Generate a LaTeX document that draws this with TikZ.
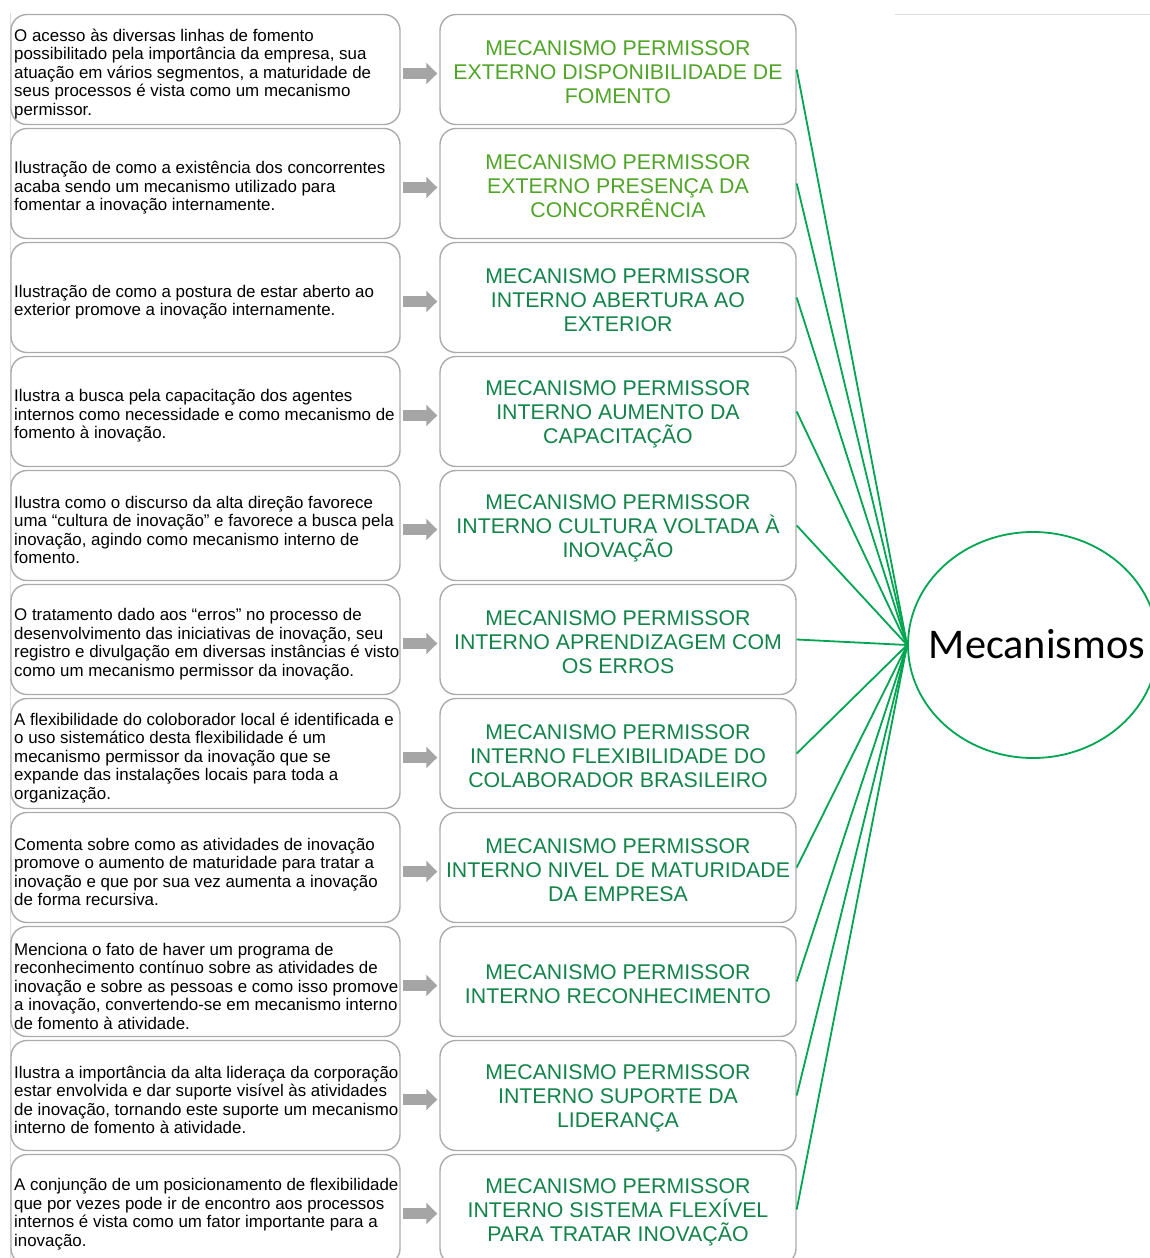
\documentclass[tikz,border=0pt]{standalone}
\usepackage{fontspec}
\setmainfont{Liberation Sans}
\newfontfamily\calfont{Carlito}
\usetikzlibrary{arrows.meta,shapes.geometric}
\definecolor{boxgray}{HTML}{ABABAB}
\definecolor{arrowgray}{HTML}{A5A5A5}
\definecolor{extgreen}{RGB}{80,165,40}
\definecolor{intgreen}{RGB}{18,132,74}
\definecolor{linkgreen}{RGB}{0,166,81}
\definecolor{rulegray}{HTML}{DCDCDC}
\begin{document}
\begin{tikzpicture}[x=1pt,y=-1pt,
  descbox/.style={draw=boxgray, line width=1.4pt, rounded corners=16pt,
    minimum width=389pt, minimum height=110pt, inner sep=0pt},
  desctext/.style={anchor=west, align=left, inner sep=0pt,
    font=\fontsize{16.9}{18.5}\selectfont},
  mechbox/.style={draw=boxgray, line width=1.4pt, rounded corners=16pt,
    minimum width=356pt, minimum height=110pt, inner sep=0pt},
  mechtext/.style={align=center, inner sep=0pt,
    font=\fontsize{21.3}{24}\selectfont},
  ext/.style={mechtext, text=extgreen},
  int/.style={mechtext, text=intgreen},
  flow/.style={arrowgray, line width=11pt,
    -{Triangle[width=21pt,length=11pt]}, shorten <=2pt, shorten >=2pt},
  link/.style={linkgreen, line width=1.8pt},
]
\useasboundingbox (0,0) rectangle (1150,1258);
\clip (0,0) rectangle (1150,1258);
\fill[white] (0,0) rectangle (1150,1258);

% faint page rules
\coordinate (ruleA) at (10,13);
\coordinate (ruleB) at (10,1258);
\coordinate (ruleC) at (895,14);
\coordinate (ruleD) at (1150,14);
\draw[rulegray, line width=0.8pt] (ruleA) -- (ruleB);
\draw[rulegray, line width=0.8pt] (ruleC) -- (ruleD);

% central concept
\node[draw=linkgreen, line width=1.8pt, ellipse, minimum width=250pt,
  minimum height=226pt, inner sep=0pt] (M) at (1033,645) {};
\node[font=\calfont\fontsize{42.3}{48}\selectfont, inner sep=0pt] (Mt) at (1037,644) {Mecanismos};

% row 1
\node[descbox] (L1) at (205.5,69.5) {};
\node[desctext] (T1) at (14,74) {O acesso às diversas linhas de fomento\\possibilitado pela importância da empresa, sua\\atuação em vários segmentos, a maturidade de\\seus processos é vista como um mecanismo\\permissor.};
\node[mechbox] (R1) at (618,69.5) {};
\node[ext] (S1) at (618,72.5) {MECANISMO PERMISSOR\\EXTERNO DISPONIBILIDADE DE\\FOMENTO};

% row 2
\node[descbox] (L2) at (205.5,183.5) {};
\node[desctext] (T2) at (14,188) {Ilustração de como a existência dos concorrentes\\acaba sendo um mecanismo utilizado para\\fomentar a inovação internamente.};
\node[mechbox] (R2) at (618,183.5) {};
\node[ext] (S2) at (618,186.5) {MECANISMO PERMISSOR\\EXTERNO PRESENÇA DA\\CONCORRÊNCIA};

% row 3
\node[descbox] (L3) at (205.5,297.5) {};
\node[desctext] (T3) at (14,302) {Ilustração de como a postura de estar aberto ao\\exterior promove a inovação internamente.};
\node[mechbox] (R3) at (618,297.5) {};
\node[int] (S3) at (618,300.5) {MECANISMO PERMISSOR\\INTERNO ABERTURA AO\\EXTERIOR};

% row 4
\node[descbox] (L4) at (205.5,411.5) {};
\node[desctext] (T4) at (14,416) {Ilustra a busca pela capacitação dos agentes\\internos como necessidade e como mecanismo de\\fomento à inovação.};
\node[mechbox] (R4) at (618,411.5) {};
\node[int] (S4) at (618,414.5) {MECANISMO PERMISSOR\\INTERNO AUMENTO DA\\CAPACITAÇÃO};

% row 5
\node[descbox] (L5) at (205.5,525.5) {};
\node[desctext] (T5) at (14,530) {Ilustra como o discurso da alta direção favorece\\uma “cultura de inovação” e favorece a busca pela\\inovação, agindo como mecanismo interno de\\fomento.};
\node[mechbox] (R5) at (618,525.5) {};
\node[int] (S5) at (618,528.5) {MECANISMO PERMISSOR\\INTERNO CULTURA VOLTADA À\\INOVAÇÃO};

% row 6
\node[descbox] (L6) at (205.5,639.5) {};
\node[desctext] (T6) at (14,644) {O tratamento dado aos “erros” no processo de\\desenvolvimento das iniciativas de inovação, seu\\registro e divulgação em diversas instâncias é visto\\como um mecanismo permissor da inovação.};
\node[mechbox] (R6) at (618,639.5) {};
\node[int] (S6) at (618,642.5) {MECANISMO PERMISSOR\\INTERNO APRENDIZAGEM COM\\OS ERROS};

% row 7
\node[descbox] (L7) at (205.5,753.5) {};
\node[desctext] (T7) at (14,758) {A flexibilidade do coloborador local é identificada e\\o uso sistemático desta flexibilidade é um\\mecanismo permissor da inovação que se\\expande das instalações locais para toda a\\organização.};
\node[mechbox] (R7) at (618,753.5) {};
\node[int] (S7) at (618,756.5) {MECANISMO PERMISSOR\\INTERNO FLEXIBILIDADE DO\\COLABORADOR BRASILEIRO};

% row 8
\node[descbox] (L8) at (205.5,867.5) {};
\node[desctext] (T8) at (14,872) {Comenta sobre como as atividades de inovação\\promove o aumento de maturidade para tratar a\\inovação e que por sua vez aumenta a inovação\\de forma recursiva.};
\node[mechbox] (R8) at (618,867.5) {};
\node[int] (S8) at (618,870.5) {MECANISMO PERMISSOR\\INTERNO NIVEL DE MATURIDADE\\DA EMPRESA};

% row 9
\node[descbox] (L9) at (205.5,981.5) {};
\node[desctext] (T9) at (14,986) {Menciona o fato de haver um programa de\\reconhecimento contínuo sobre as atividades de\\inovação e sobre as pessoas e como isso promove\\a inovação, convertendo-se em mecanismo interno\\de fomento à atividade.};
\node[mechbox] (R9) at (618,981.5) {};
\node[int] (S9) at (618,984.5) {MECANISMO PERMISSOR\\INTERNO RECONHECIMENTO};

% row 10
\node[descbox] (L10) at (205.5,1095.5) {};
\node[desctext] (T10) at (14,1100) {Ilustra a importância da alta lideraça da corporação\\estar envolvida e dar suporte visível às atividades\\de inovação, tornando este suporte um mecanismo\\interno de fomento à atividade.};
\node[mechbox] (R10) at (618,1095.5) {};
\node[int] (S10) at (618,1098.5) {MECANISMO PERMISSOR\\INTERNO SUPORTE DA\\LIDERANÇA};

% row 11
\node[descbox] (L11) at (205.5,1209.5) {};
\node[desctext] (T11) at (14,1214) {A conjunção de um posicionamento de flexibilidade\\que por vezes pode ir de encontro aos processos\\internos é vista como um fator importante para a\\inovação.};
\node[mechbox] (R11) at (618,1209.5) {};
\node[int] (S11) at (618,1212.5) {MECANISMO PERMISSOR\\INTERNO SISTEMA FLEXÍVEL\\PARA TRATAR INOVAÇÃO};

% block arrows and links to the central concept
\foreach \i in {1,...,11} {
  \draw[flow] ([yshift=-4pt]L\i.east) -- ([yshift=-4pt]R\i.west);
  \draw[link] (R\i.east) -- (M.west);
}
\end{tikzpicture}
\end{document}
